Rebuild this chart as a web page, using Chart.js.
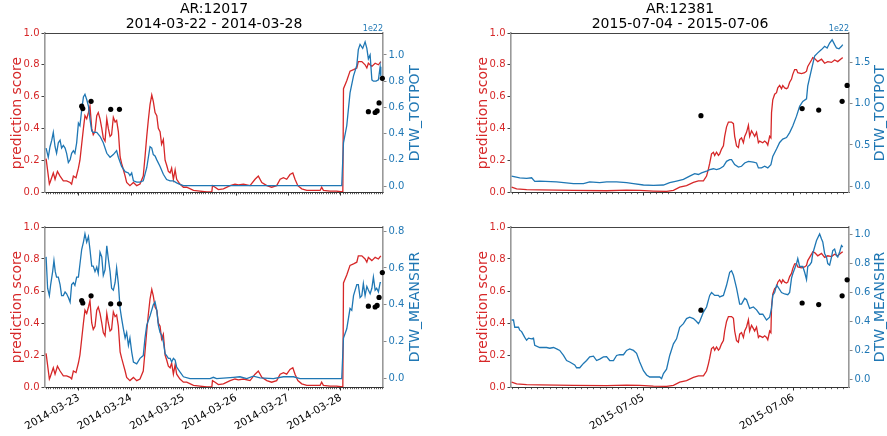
<!DOCTYPE html>
<html>
<head>
<meta charset="utf-8">
<script src="https://cdn.jsdelivr.net/npm/chart.js@4.4.1/dist/chart.umd.min.js"></script>
<style>
  body { margin: 0; background: #fff; width: 887px; height: 436px; overflow: hidden; position: relative;
         font-family: "DejaVu Sans", sans-serif; }
  canvas { position: absolute; }
  .ttl { position: absolute; white-space: nowrap; color: #000; font-size: 14px; line-height: 15px;
         text-align: center; transform: translate(-50%, -50%); }
  .yl { position: absolute; white-space: nowrap; font-size: 14px; line-height: 16px;
        transform: translate(-50%, -50%) rotate(-90deg); }
  .off { position: absolute; white-space: nowrap; font-size: 8px; line-height: 10px; color: #1f77b4;
         transform: translate(-100%, -50%); }
</style>
</head>
<body>
<canvas id="tl" width="440" height="175" style="left:0;top:25px"></canvas>
<canvas id="tr" width="442" height="175" style="left:445px;top:25px"></canvas>
<canvas id="bl" width="440" height="221" style="left:0;top:215px"></canvas>
<canvas id="br" width="442" height="221" style="left:445px;top:215px"></canvas>

<div class="ttl" style="left:214px;top:15.5px">AR:12017<br>2014-03-22 - 2014-03-28</div>
<div class="ttl" style="left:680px;top:15.5px">AR:12381<br>2015-07-04 - 2015-07-06</div>

<div class="yl" style="left:15.5px;top:113px;color:#d62728">prediction score</div>
<div class="yl" style="left:482px;top:113px;color:#d62728">prediction score</div>
<div class="yl" style="left:15.5px;top:307px;color:#d62728">prediction score</div>
<div class="yl" style="left:482px;top:307px;color:#d62728">prediction score</div>

<div class="yl" style="left:414px;top:113px;color:#1f77b4">DTW_TOTPOT</div>
<div class="yl" style="left:879px;top:113px;color:#1f77b4">DTW_TOTPOT</div>
<div class="yl" style="left:414px;top:307px;color:#1f77b4">DTW_MEANSHR</div>
<div class="yl" style="left:879px;top:307px;color:#1f77b4">DTW_MEANSHR</div>

<div class="off" style="left:383px;top:29px">1e22</div>
<div class="off" style="left:849px;top:29px">1e22</div>

<script>
// Active regions and the first day of each observation window
const regions = ['AR:12017', 'AR:12381'];
const windowStart = ['2014-03-22', '2015-07-04'];

// Every series is a list of [hours since windowStart 00:00 UTC, value]
// AR 12017 – flare prediction score
const predictionA = [[9.0,0.21],[10.5,0.05],[10.8,0.06],[12.3,0.12],[13.1,0.08],[14.2,0.13],[15.4,0.10],[16.9,0.07],[18.4,0.07],[20.0,0.06],[20.7,0.05],[21.5,0.10],[22.7,0.09],[23.8,0.15],[24.5,0.20],[25.3,0.30],[26.1,0.40],[26.8,0.48],[27.6,0.46],[28.4,0.50],[29.1,0.54],[29.9,0.40],[30.6,0.36],[31.4,0.38],[32.2,0.48],[32.9,0.50],[33.7,0.46],[34.5,0.40],[35.2,0.34],[36.0,0.32],[36.8,0.46],[37.5,0.40],[38.3,0.35],[39.0,0.36],[39.8,0.47],[40.6,0.44],[41.3,0.45],[42.1,0.38],[42.9,0.22],[43.6,0.18],[44.4,0.14],[45.2,0.10],[45.9,0.06],[47.4,0.04],[49.0,0.06],[50.5,0.04],[52.0,0.05],[53.5,0.10],[54.3,0.22],[55.1,0.35],[55.8,0.45],[56.6,0.55],[57.4,0.61],[58.1,0.57],[58.9,0.50],[59.7,0.48],[60.4,0.40],[61.2,0.38],[61.9,0.30],[62.7,0.33],[63.5,0.20],[64.2,0.17],[65.0,0.13],[65.8,0.12],[66.5,0.15],[67.3,0.08],[68.1,0.14],[68.8,0.08],[70.3,0.05],[71.9,0.03],[73.4,0.03],[76.5,0.01],[79.5,0.005],[82.6,0.0],[84.9,0.0],[85.2,0.04],[86.4,0.03],[87.9,0.015],[90.2,0.02],[93.3,0.04],[95.5,0.05],[97.1,0.045],[99.4,0.05],[102.4,0.04],[104.7,0.08],[106.2,0.10],[107.8,0.06],[110.1,0.04],[112.3,0.03],[114.6,0.04],[116.2,0.08],[117.7,0.09],[119.2,0.08],[120.7,0.11],[122.0,0.12],[123.0,0.08],[124.3,0.04],[126.1,0.02],[128.4,0.01],[131.4,0.01],[134.5,0.01],[135.2,0.03],[136.0,0.01],[139.1,0.005],[142.1,0.005],[144.9,0.0],[145.2,0.65],[146.7,0.70],[148.2,0.76],[149.8,0.77],[151.3,0.78],[152.0,0.82],[153.6,0.82],[155.1,0.80],[155.9,0.78],[156.6,0.81],[158.2,0.79],[159.7,0.81],[161.2,0.80],[162.3,0.82]];

// AR 12017 – DTW of total photospheric magnetic free energy (units of 1e22)
const totpotA = [[9.0,0.29],[10.0,0.22],[10.8,0.30],[11.6,0.35],[12.3,0.41],[13.1,0.30],[13.8,0.25],[14.6,0.33],[15.4,0.35],[16.1,0.29],[16.9,0.31],[17.7,0.29],[18.4,0.25],[19.2,0.18],[20.0,0.20],[20.7,0.25],[21.5,0.27],[22.2,0.25],[23.0,0.33],[23.8,0.48],[24.5,0.46],[25.3,0.58],[26.1,0.68],[26.8,0.70],[27.6,0.66],[28.4,0.61],[29.1,0.51],[29.9,0.42],[30.6,0.41],[32.2,0.41],[33.7,0.38],[35.2,0.33],[36.8,0.25],[38.3,0.22],[39.8,0.24],[41.3,0.27],[42.1,0.22],[43.6,0.15],[45.2,0.11],[46.7,0.10],[47.4,0.08],[48.2,0.10],[49.0,0.04],[50.5,0.03],[52.0,0.03],[53.5,0.04],[55.1,0.14],[56.6,0.30],[57.4,0.29],[58.1,0.24],[58.9,0.23],[59.7,0.20],[61.2,0.15],[62.7,0.09],[64.2,0.05],[65.8,0.04],[67.3,0.04],[68.8,0.025],[70.3,0.013],[71.9,0.003],[90.0,0.003],[110.0,0.003],[130.0,0.003],[144.4,0.003],[145.2,0.33],[146.7,0.46],[148.2,0.71],[149.8,0.84],[151.3,0.92],[152.0,1.04],[152.8,1.08],[154.0,1.05],[155.1,1.10],[155.9,1.05],[156.6,0.97],[157.4,1.00],[158.2,0.81],[158.9,0.80],[160.1,0.80],[161.2,0.81],[162.0,0.91],[162.3,0.84]];

// AR 12017 – DTW of mean shear angle
const meanshrA = [[9.0,0.66],[9.7,0.49],[10.5,0.45],[11.1,0.51],[12.0,0.58],[12.6,0.64],[13.2,0.58],[13.8,0.55],[14.6,0.55],[15.4,0.51],[16.1,0.45],[16.9,0.45],[17.7,0.47],[18.4,0.46],[19.2,0.44],[20.0,0.415],[20.7,0.51],[21.5,0.52],[22.2,0.505],[23.0,0.55],[23.8,0.55],[24.5,0.62],[25.3,0.70],[26.1,0.74],[26.8,0.785],[27.6,0.74],[28.4,0.77],[29.1,0.70],[29.9,0.61],[30.6,0.61],[31.4,0.58],[32.2,0.605],[32.9,0.57],[33.7,0.685],[34.5,0.66],[35.2,0.56],[36.0,0.59],[36.8,0.72],[37.5,0.65],[38.3,0.58],[39.0,0.49],[39.8,0.48],[40.6,0.52],[41.3,0.60],[42.1,0.515],[42.9,0.38],[43.6,0.325],[44.4,0.27],[45.2,0.22],[45.9,0.25],[46.7,0.18],[47.4,0.22],[48.2,0.145],[49.0,0.09],[50.5,0.08],[52.0,0.11],[53.5,0.125],[54.3,0.22],[55.1,0.29],[56.6,0.34],[58.1,0.40],[58.9,0.415],[59.7,0.37],[60.4,0.29],[61.2,0.25],[61.9,0.235],[62.7,0.20],[63.5,0.135],[64.2,0.125],[65.0,0.11],[65.8,0.11],[66.5,0.09],[67.3,0.11],[68.1,0.10],[68.8,0.063],[70.3,0.036],[71.9,0.01],[74.9,0.0],[84.1,0.0],[85.6,0.007],[87.1,0.0],[94.8,0.007],[97.8,0.01],[100.9,0.0],[103.9,0.013],[107.0,0.004],[113.1,0.0],[117.7,0.01],[122.3,0.01],[125.3,0.0],[144.4,0.0],[145.2,0.22],[146.7,0.27],[148.2,0.38],[149.0,0.37],[149.8,0.45],[151.3,0.51],[152.0,0.51],[152.8,0.44],[153.6,0.45],[154.3,0.515],[155.1,0.45],[155.9,0.50],[156.6,0.48],[157.4,0.46],[158.2,0.49],[158.9,0.55],[159.7,0.48],[160.4,0.49],[161.2,0.47],[162.0,0.52],[162.4,0.52]];

// AR 12017 – issued forecasts
const forecastsA = [[25.3,0.54],[25.8,0.525],[29.6,0.57],[38.6,0.52],[42.6,0.52],[156.6,0.505],[159.7,0.50],[160.6,0.51],[161.5,0.56],[163.0,0.715]];

// AR 12381 – flare prediction score
const predictionB = [[2.9,0.03],[3.7,0.02],[5.3,0.015],[7.4,0.013],[12.8,0.01],[18.1,0.008],[21.3,0.012],[23.4,0.01],[25.6,0.006],[27.7,0.004],[28.8,0.01],[29.8,0.03],[30.9,0.04],[32.0,0.06],[32.8,0.07],[33.6,0.07],[34.1,0.10],[34.4,0.145],[34.6,0.18],[34.9,0.24],[35.2,0.25],[35.4,0.23],[35.7,0.25],[36.0,0.23],[36.2,0.24],[36.5,0.27],[36.8,0.29],[37.0,0.35],[37.3,0.41],[37.6,0.44],[37.8,0.44],[38.1,0.44],[38.4,0.43],[38.6,0.35],[38.9,0.29],[39.2,0.28],[39.4,0.33],[39.7,0.34],[40.0,0.31],[40.2,0.35],[40.5,0.375],[40.8,0.42],[41.0,0.35],[41.3,0.385],[41.6,0.365],[41.8,0.35],[42.1,0.375],[42.4,0.31],[42.6,0.32],[43.1,0.31],[43.4,0.32],[43.7,0.31],[43.9,0.295],[44.2,0.35],[44.4,0.34],[44.5,0.50],[44.7,0.58],[45.0,0.615],[45.3,0.625],[45.5,0.655],[45.8,0.67],[46.1,0.65],[46.3,0.67],[46.6,0.655],[46.9,0.65],[47.1,0.655],[47.4,0.69],[47.7,0.71],[47.9,0.74],[48.2,0.77],[48.5,0.77],[48.7,0.75],[49.3,0.745],[49.8,0.75],[50.1,0.76],[50.3,0.79],[50.6,0.81],[50.9,0.83],[51.1,0.845],[51.4,0.84],[51.9,0.82],[52.5,0.835],[53.0,0.81],[53.5,0.82],[54.1,0.815],[54.6,0.83],[55.1,0.82],[55.7,0.84],[55.9,0.845]];

// AR 12381 – DTW of total photospheric magnetic free energy (units of 1e22)
const totpotB = [[2.9,0.12],[4.2,0.10],[5.3,0.093],[6.1,0.10],[6.6,0.057],[7.4,0.06],[10.1,0.05],[12.8,0.03],[14.4,0.028],[15.4,0.05],[17.0,0.04],[18.1,0.05],[19.7,0.05],[21.3,0.04],[22.4,0.03],[24.0,0.012],[25.6,0.008],[27.2,0.012],[28.2,0.04],[29.3,0.06],[30.4,0.08],[31.4,0.12],[32.2,0.15],[32.8,0.14],[33.3,0.16],[34.1,0.18],[34.6,0.20],[35.2,0.21],[35.7,0.20],[36.2,0.21],[36.8,0.24],[37.3,0.30],[37.8,0.32],[38.1,0.32],[38.6,0.26],[39.2,0.23],[39.7,0.24],[40.2,0.28],[40.8,0.30],[41.6,0.29],[42.1,0.28],[42.4,0.22],[42.9,0.22],[43.4,0.24],[43.9,0.22],[44.4,0.26],[44.7,0.36],[45.3,0.45],[45.8,0.53],[46.3,0.57],[46.9,0.59],[47.4,0.65],[47.9,0.73],[48.5,0.85],[49.0,0.97],[49.5,1.03],[50.1,1.06],[50.3,1.22],[50.9,1.42],[51.4,1.58],[51.9,1.62],[52.5,1.66],[53.0,1.70],[53.4,1.68],[53.8,1.74],[54.2,1.78],[54.6,1.72],[54.9,1.68],[55.3,1.67],[55.7,1.70],[55.9,1.72]];

// AR 12381 – DTW of mean shear angle
const meanshrB = [[2.9,0.41],[3.2,0.41],[3.4,0.36],[4.0,0.36],[4.2,0.34],[4.5,0.33],[5.0,0.29],[5.3,0.27],[5.6,0.285],[6.1,0.28],[6.4,0.285],[6.6,0.235],[7.4,0.22],[8.0,0.22],[8.5,0.22],[9.0,0.215],[9.6,0.22],[10.1,0.21],[10.6,0.20],[11.2,0.165],[11.7,0.13],[12.2,0.12],[13.0,0.10],[13.3,0.08],[13.8,0.08],[14.4,0.11],[14.9,0.13],[15.4,0.155],[16.0,0.16],[16.5,0.13],[17.0,0.14],[17.6,0.155],[18.1,0.157],[18.6,0.13],[19.2,0.13],[19.7,0.165],[20.2,0.17],[20.8,0.17],[21.3,0.20],[21.8,0.21],[22.4,0.20],[22.9,0.18],[23.4,0.12],[24.0,0.06],[24.5,0.03],[25.0,0.016],[26.1,0.016],[26.6,0.016],[26.9,0.005],[27.2,0.04],[27.7,0.07],[28.2,0.165],[28.8,0.245],[29.3,0.28],[29.8,0.36],[30.4,0.385],[30.9,0.42],[31.4,0.43],[32.0,0.42],[32.5,0.40],[32.8,0.385],[33.0,0.40],[33.6,0.465],[34.1,0.50],[34.6,0.58],[34.9,0.60],[35.4,0.58],[36.0,0.58],[36.2,0.57],[36.8,0.58],[37.3,0.65],[37.8,0.74],[38.1,0.75],[38.4,0.72],[38.9,0.63],[39.4,0.52],[39.7,0.52],[40.2,0.56],[40.5,0.55],[41.0,0.49],[41.6,0.50],[42.1,0.48],[42.6,0.45],[43.1,0.45],[43.7,0.41],[44.2,0.43],[44.5,0.49],[44.7,0.58],[45.0,0.60],[45.3,0.65],[45.5,0.64],[46.1,0.60],[46.6,0.59],[47.1,0.585],[47.4,0.60],[47.7,0.70],[47.9,0.73],[48.5,0.80],[48.7,0.835],[49.0,0.78],[49.5,0.78],[49.8,0.74],[50.1,0.69],[50.3,0.78],[50.6,0.79],[50.9,0.81],[51.1,0.87],[51.7,0.96],[52.2,1.005],[52.5,0.97],[52.7,0.95],[53.0,0.87],[53.3,0.845],[53.5,0.80],[53.8,0.79],[54.1,0.845],[54.3,0.89],[54.6,0.90],[54.9,0.855],[55.1,0.845],[55.4,0.88],[55.7,0.925],[55.9,0.915]];

// AR 12381 – issued forecasts
const forecastsB = [[33.2,0.48],[49.4,0.525],[52.05,0.515],[55.8,0.57],[56.6,0.67]];

const RED = '#d62728';
const BLUE = '#1f77b4';
const FONT = '"DejaVu Sans", sans-serif';

const toPoints = pairs => pairs.map(p => ({ x: p[0], y: p[1] }));

function dayLabel(start, hoursValue) {
  const t = Date.parse(start + 'T00:00:00Z') + hoursValue * 3600000;
  return new Date(t).toISOString().slice(0, 10);
}

// Hourly minor ticks on the time axis plus the top frame line
const frameAndMinorTicks = {
  id: 'frameAndMinorTicks',
  afterDraw(chart) {
    const xs = chart.scales.x, a = chart.chartArea, ctx = chart.ctx;
    ctx.save();
    ctx.strokeStyle = '#333';
    ctx.lineWidth = 0.8;
    ctx.beginPath();
    for (let h = Math.ceil(xs.min); h <= xs.max; h++) {
      if (h % 24 === 0) continue;
      const px = Math.round(xs.getPixelForValue(h)) + 0.5;
      ctx.moveTo(px, a.bottom);
      ctx.lineTo(px, a.bottom + 2.2);
    }
    ctx.stroke();
    ctx.strokeStyle = '#444';
    ctx.lineWidth = 1;
    ctx.beginPath();
    ctx.moveTo(a.left, a.top + 0.5);
    ctx.lineTo(a.right, a.top + 0.5);
    ctx.stroke();
    ctx.restore();
  }
};

function panel(id, o) {
  const tickFont = { family: FONT, size: 10 };
  const dateFont = { family: FONT, size: 10.5 };
  const yGrid = { display: true, drawOnChartArea: false, drawTicks: true, tickLength: 3.5, tickColor: '#444', tickWidth: 1 };
  return new Chart(document.getElementById(id), {
    type: 'line',
    data: {
      datasets: [
        { type: 'scatter', data: toPoints(o.forecasts), yAxisID: 'y', backgroundColor: '#000', borderColor: '#000',
          pointRadius: 2.6, pointBorderWidth: 0, order: 1, clip: 4 },
        { data: toPoints(o.dtw), yAxisID: 'y2', borderColor: BLUE, borderWidth: 1.3, pointRadius: 0, order: 2 },
        { data: toPoints(o.prediction), yAxisID: 'y', borderColor: RED, borderWidth: 1.3, pointRadius: 0, order: 3 }
      ]
    },
    options: {
      responsive: false,
      animation: false,
      devicePixelRatio: 1,
      layout: { padding: { top: o.top, left: 0, right: 0, bottom: 0 } },
      plugins: { legend: { display: false }, tooltip: { enabled: false } },
      scales: {
        x: {
          type: 'linear', min: o.xMin, max: o.xMax,
          afterFit: s => { s.height = o.xH; },
          ticks: { display: o.dates, stepSize: 24, includeBounds: false, autoSkip: false,
                   minRotation: 30, maxRotation: 30, color: '#000', font: dateFont, padding: 1,
                   callback: v => dayLabel(o.start, v) },
          grid: { display: true, drawOnChartArea: false, drawTicks: true, tickLength: 3.5, tickColor: '#333', tickWidth: 1 },
          border: { display: true, color: '#333', width: 1 }
        },
        y: {
          position: 'left', min: 0, max: 1,
          afterFit: s => { s.width = o.leftW; },
          ticks: { stepSize: 0.2, color: RED, font: tickFont, padding: 2, callback: v => v.toFixed(1) },
          grid: yGrid,
          border: { display: true, color: '#999', width: 1.6 }
        },
        y2: {
          position: 'right', min: o.yMin, max: o.yMax,
          afterFit: s => { s.width = o.rightW; },
          ticks: { stepSize: o.step, includeBounds: false, color: BLUE, font: tickFont, padding: 2,
                   callback: v => v.toFixed(1) },
          grid: Object.assign({}, yGrid, { tickColor: '#888' }),
          border: { display: true, color: '#999', width: 1.6 }
        }
      }
    },
    plugins: [frameAndMinorTicks]
  });
}

panel('tl', { prediction: predictionA, dtw: totpotA, forecasts: forecastsA, start: windowStart[0],
  xMin: 8.5, xMax: 163.3, yMin: -0.045, yMax: 1.167, step: 0.2,
  leftW: 45, rightW: 57, top: 8, xH: 7, dates: false });
panel('tr', { prediction: predictionB, dtw: totpotB, forecasts: forecastsB, start: windowStart[1],
  xMin: 2.8, xMax: 56.9, yMin: -0.073, yMax: 1.862, step: 0.5,
  leftW: 66, rightW: 38, top: 8, xH: 7, dates: false });
panel('bl', { prediction: predictionA, dtw: meanshrA, forecasts: forecastsA, start: windowStart[0],
  xMin: 8.5, xMax: 163.3, yMin: -0.0455, yMax: 0.822, step: 0.2,
  leftW: 45, rightW: 57, top: 12, xH: 49, dates: true });
panel('br', { prediction: predictionB, dtw: meanshrB, forecasts: forecastsB, start: windowStart[1],
  xMin: 2.8, xMax: 56.9, yMin: -0.053, yMax: 1.053, step: 0.2,
  leftW: 66, rightW: 38, top: 12, xH: 49, dates: true });
</script>
</body>
</html>
